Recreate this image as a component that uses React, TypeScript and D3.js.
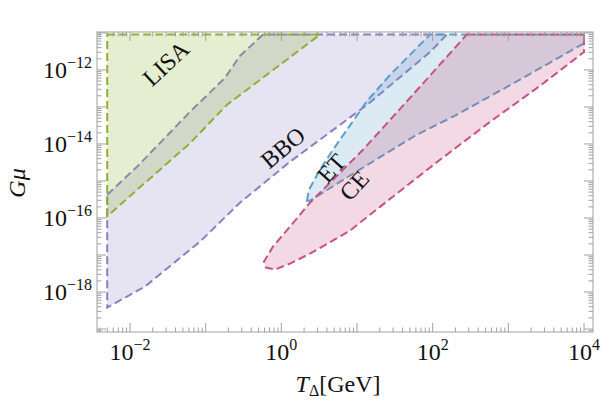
import React from 'react';
import * as d3 from 'd3';

const W = 601, H = 409;
const LEFT = 97, RIGHT = 593, TOP = 32, BOTTOM = 332;

// region boundaries: T_Delta [GeV] and G mu
const lisaT = [0.005, 3.24, 0.191, 0.062, 0.005];
const lisaGmu = [9e-12, 9e-12, 1.14e-13, 1.05e-14, 1.12e-16];

const bboT = [0.005, 0.0124, 0.062, 0.18, 0.284, 0.573, 154, 92.3, 13.6, 1.3, 0.284, 0.0841, 0.0158, 0.005];
const bboGmu = [4.26e-16, 2.42e-15, 7.36e-14, 6.09e-13, 2.39e-12, 9e-12, 9e-12, 3.05e-12, 1.14e-13, 3.3e-15, 2.59e-16, 2.3e-17, 1.41e-18, 3.81e-19];

const etT = [2.18, 2.32, 3.24, 4.82, 13.4, 27.3, 92.3, 1e4, 1e4, 1563, 207, 61.5, 9.9, 2.39];
const etGmu = [2.93e-16, 5.81e-16, 2.01e-15, 6.97e-15, 1.4e-13, 7.33e-13, 9e-12, 9e-12, 5.25e-12, 6.09e-13, 6.11e-14, 1.77e-14, 1.81e-15, 2.93e-16];

const ceT = [282, 1e4, 1e4, 2618, 573, 125, 45.4, 8.07, 2.39, 1.3, 0.824, 0.627, 0.59, 0.776, 1.3, 2.39, 12.0, 45.4];
const ceGmu = [9e-12, 9e-12, 3.05e-12, 3.71e-13, 3.96e-14, 3.74e-15, 7.45e-16, 4.55e-17, 1.09e-17, 5.86e-18, 4.04e-18, 4.57e-18, 6.64e-18, 1.69e-17, 5.83e-17, 2.59e-16, 6.97e-15, 1.4e-13];

const xLabelExps = [-2, 0, 2, 4];
const yLabelExps = [-18, -16, -14, -12];

const regions = [
  { name: 'BBO', T: bboT, G: bboGmu, color: '#8c7fc4', label: { x: 1.05, y: 7.9e-15, rot: -40 } },
  { name: 'LISA', T: lisaT, G: lisaGmu, color: '#8fb032', label: { x: 0.03, y: 1.5e-12, rot: -43 } },
  { name: 'ET', T: etT, G: etGmu, color: '#5aa0c8', label: { x: 4.6, y: 2.2e-15, rot: -48 } },
  { name: 'CE', T: ceT, G: ceGmu, color: '#c85280', label: { x: 9.2, y: 7.5e-16, rot: -48 } },
];

export default function App() {
  const xs = d3.scaleLog().domain([Math.pow(10, -2.436), Math.pow(10, 4.119)]).range([LEFT, RIGHT]);
  const ys = d3.scaleLog().domain([Math.pow(10, -19.08), Math.pow(10, -10.975)]).range([BOTTOM, TOP]);

  const line = d3.line<[number, number]>().x(d => xs(d[0])).y(d => ys(d[1])).curve(d3.curveLinearClosed);

  const xTicks: { v: number; major: boolean }[] = [];
  for (let k = -3; k <= 4; k++) {
    for (let m = 1; m <= 9; m++) {
      const v = m * Math.pow(10, k);
      const px = xs(v);
      if (px >= LEFT && px <= RIGHT) xTicks.push({ v, major: m === 1 });
    }
  }
  const yTicks: { v: number; major: boolean }[] = [];
  for (let k = -20; k <= -11; k++) {
    for (let m = 1; m <= 9; m++) {
      const v = m * Math.pow(10, k);
      const py = ys(v);
      if (py >= TOP && py <= BOTTOM) yTicks.push({ v, major: m === 1 });
    }
  }
  const tickCol = '#a0a0a0';
  const font = "'Liberation Serif', 'Times New Roman', serif";

  return (
    <svg width={W} height={H} style={{ position: 'absolute', left: 0, top: 0 }} fontFamily={font}>
      <rect x={0} y={0} width={W} height={H} fill="#fff" />
      {regions.map(r => {
        const pts = r.T.map((t, i) => [t, r.G[i]] as [number, number]);
        return (
          <g key={r.name}>
            <path d={line(pts) || ''} fill={r.color} fillOpacity={0.22} stroke={r.color} strokeWidth={2} strokeDasharray="8 4" />
          </g>
        );
      })}
      {regions.map(r => (
        <text key={r.name + 'l'} x={xs(r.label.x)} y={ys(r.label.y)} fontSize={24} textAnchor="middle" dominantBaseline="central"
          transform={`rotate(${r.label.rot} ${xs(r.label.x)} ${ys(r.label.y)})`} fill="#111">{r.name}</text>
      ))}
      {/* frame */}
      <rect x={LEFT} y={TOP} width={RIGHT - LEFT} height={BOTTOM - TOP} fill="none" stroke={tickCol} strokeWidth={1} />
      {xTicks.map((t, i) => {
        const px = xs(t.v);
        const len = t.major ? 9 : 4.5;
        return (
          <g key={'xt' + i} stroke={tickCol} strokeWidth={1}>
            <line x1={px} x2={px} y1={BOTTOM} y2={BOTTOM - len} />
            <line x1={px} x2={px} y1={TOP} y2={TOP + len} />
          </g>
        );
      })}
      {yTicks.map((t, i) => {
        const py = ys(t.v);
        const len = t.major ? 9 : 4.5;
        return (
          <g key={'yt' + i} stroke={tickCol} strokeWidth={1}>
            <line x1={LEFT} x2={LEFT + len} y1={py} y2={py} />
            <line x1={RIGHT} x2={RIGHT - len} y1={py} y2={py} />
          </g>
        );
      })}
      {xLabelExps.map(e => (
        <text key={'xl' + e} x={xs(Math.pow(10, e))} y={360} textAnchor="middle" fontSize={24} fill="#111">
          10<tspan fontSize={16} dy={-10}>{e < 0 ? '\u2212' + Math.abs(e) : String(e)}</tspan>
        </text>
      ))}
      {yLabelExps.map(e => (
        <text key={'yl' + e} x={92} y={ys(Math.pow(10, e)) + 8} textAnchor="end" fontSize={24} fill="#111">
          10<tspan fontSize={16} dy={-10}>{'\u2212' + Math.abs(e)}</tspan>
        </text>
      ))}
      <text x={338} y={392} textAnchor="middle" fontSize={24} fill="#111">
        <tspan fontStyle="italic">T</tspan>
        <tspan fontSize={16} dy={4}>Δ</tspan>
        <tspan dy={-4}>[GeV]</tspan>
      </text>
      <text transform="translate(25 183) rotate(-90)" textAnchor="middle" fontSize={24} fontStyle="italic" fill="#111">Gμ</text>
    </svg>
  );
}
